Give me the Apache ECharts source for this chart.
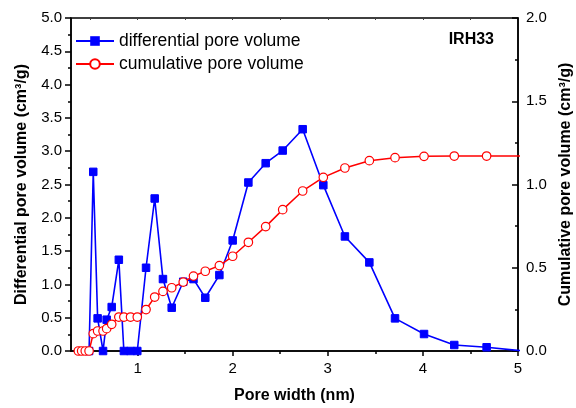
<!DOCTYPE html>
<html>
<head>
<meta charset="utf-8">
<script src="https://cdn.jsdelivr.net/npm/echarts@6/dist/echarts.min.js"></script>
<style>html,body{margin:0;padding:0;background:#fff;}#c{width:576px;height:408px;}</style>
</head>
<body>
<div id="c"></div>
<script>
const poreWidth = [0.377, 0.412, 0.45, 0.49, 0.534, 0.58, 0.637, 0.675, 0.728, 0.803, 0.856, 0.926, 0.997, 1.089, 1.18, 1.267, 1.359, 1.48, 1.588, 1.712, 1.86, 2.0, 2.165, 2.347, 2.526, 2.736, 2.953, 3.18, 3.437, 3.707, 4.012, 4.33, 4.67, 5.06];
const differential = [null, null, null, 0, 2.69, 0.49, 0, 0.47, 0.66, 1.37, 0, 0, 0, 1.25, 2.29, 1.08, 0.65, 1.04, 1.08, 0.80, 1.14, 1.66, 2.53, 2.82, 3.01, 3.33, 2.49, 1.72, 1.33, 0.49, 0.255, 0.09, 0.056, 0.0];
const cumulative = [0, 0, 0, 0, 0.104, 0.12, 0.12, 0.134, 0.16, 0.204, 0.204, 0.204, 0.204, 0.249, 0.324, 0.358, 0.38, 0.414, 0.45, 0.479, 0.513, 0.569, 0.653, 0.747, 0.849, 0.961, 1.043, 1.099, 1.143, 1.161, 1.169, 1.171, 1.171, 1.172];
const xMajorTicks = [1, 2, 3, 4, 5];
const xMinorTicks = [0.5, 1.5, 2.5, 3.5, 4.5];
const xTopTicks = [0.5, 1, 1.5, 2, 2.5, 3, 3.5, 4, 4.5];
const seriesNames = ['differential pore volume', 'cumulative pore volume'];
const sampleLabel = 'IRH33';

const FONT = "'Liberation Sans', Arial, sans-serif";
const chart = echarts.init(document.getElementById('c'), null, {renderer: 'canvas'});

const pair = (xs, ys) => xs.map((x, i) => [x, ys[i]]);

const option = {
  animation: false,
  backgroundColor: '#fff',
  textStyle: {fontFamily: FONT, color: '#000'},
  grid: {left: 71, right: 58, top: 18, bottom: 57, outerBoundsMode: 'none', containLabel: false, show: true, borderColor: '#000', borderWidth: 1.5, backgroundColor: 'transparent'},
  legend: {
    orient: 'vertical', left: 70, top: 27, itemWidth: 38, itemHeight: 12, itemGap: 5,
    textStyle: {fontSize: 17.5, fontFamily: FONT, color: '#000', lineHeight: 18},
    data: seriesNames
  },
  title: {
    text: sampleLabel, right: 77, top: 27,
    textStyle: {fontSize: 16, fontWeight: 'bold', fontFamily: FONT, color: '#000'}
  },
  xAxis: [
    {
      type: 'value', min: 0.3, max: 5, position: 'bottom',
      name: 'Pore width (nm)', nameLocation: 'middle', nameGap: 37,
      nameTextStyle: {fontSize: 16, fontWeight: 'bold', fontFamily: FONT, color: '#000'},
      axisLine: {show: true, lineStyle: {color: '#000', width: 1.5}},
      axisTick: {show: true, length: 5, customValues: xMajorTicks, lineStyle: {color: '#000', width: 1.5}},
      axisLabel: {show: true, customValues: xMajorTicks, fontSize: 15, margin: 10, color: '#000', fontFamily: FONT},
      splitLine: {show: false}
    },
    {
      type: 'value', min: 0.3, max: 5, position: 'bottom',
      axisLine: {show: false},
      axisTick: {show: true, length: 3, customValues: xMinorTicks, lineStyle: {color: '#000', width: 1.5}},
      axisLabel: {show: false},
      splitLine: {show: false}
    },
    {
      type: 'value', min: 0.3, max: 5, position: 'top',
      axisLine: {show: false},
      axisTick: {show: true, inside: true, length: 2, customValues: xTopTicks, lineStyle: {color: '#444', width: 1}},
      axisLabel: {show: false},
      splitLine: {show: false}
    }
  ],
  yAxis: [
    {
      type: 'value', min: 0, max: 5, interval: 0.5, position: 'left',
      name: 'Differential pore volume (cm³/g)', nameLocation: 'middle', nameGap: 41, nameRotate: 90,
      nameTextStyle: {fontSize: 16, fontWeight: 'bold', fontFamily: FONT, color: '#000'},
      axisLine: {show: true, lineStyle: {color: '#000', width: 1.5}},
      axisTick: {show: true, length: 6, lineStyle: {color: '#000', width: 1.5}},
      minorTick: {show: true, splitNumber: 2, length: 3, lineStyle: {color: '#000', width: 1.5}},
      axisLabel: {fontSize: 15, margin: 9, color: '#000', fontFamily: FONT, formatter: v => v.toFixed(1)},
      splitLine: {show: false}
    },
    {
      type: 'value', min: 0, max: 2, interval: 0.5, position: 'right',
      name: 'Cumulative pore volume (cm³/g)', nameLocation: 'middle', nameGap: 40, nameRotate: 90,
      nameTextStyle: {fontSize: 16, fontWeight: 'bold', fontFamily: FONT, color: '#000'},
      axisLine: {show: true, lineStyle: {color: '#000', width: 1.5}},
      axisTick: {show: true, inside: true, length: 6, lineStyle: {color: '#000', width: 1.5}},
      minorTick: {show: true, splitNumber: 2, length: 3, lineStyle: {color: '#000', width: 1.5}},
      axisLabel: {fontSize: 15, margin: 8, color: '#000', fontFamily: FONT, formatter: v => v.toFixed(1)},
      splitLine: {show: false}
    }
  ],
  series: [
    {
      name: seriesNames[0], type: 'line', xAxisIndex: 0, yAxisIndex: 0,
      data: pair(poreWidth, differential),
      symbol: 'rect', symbolSize: 7.5, showAllSymbol: true, clip: true,
      lineStyle: {color: '#0000ff', width: 1.6},
      itemStyle: {color: '#0000ff', borderColor: '#0000ff'},
      z: 2
    },
    {
      name: seriesNames[1], type: 'line', xAxisIndex: 0, yAxisIndex: 1,
      data: pair(poreWidth, cumulative),
      symbol: 'circle', symbolSize: 8.5, showAllSymbol: true, clip: true,
      lineStyle: {color: '#ff0000', width: 1.5},
      itemStyle: {color: '#ffffff', borderColor: '#ff0000', borderWidth: 1.2},
      z: 3
    }
  ]
};
chart.setOption(option);
</script>
</body>
</html>
